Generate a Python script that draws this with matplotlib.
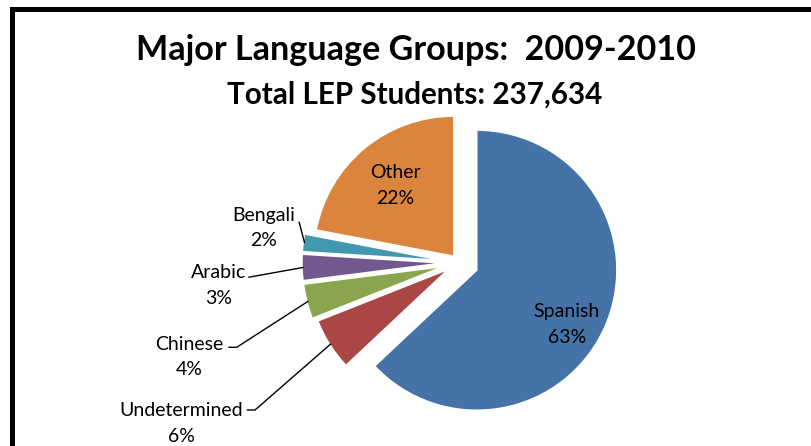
import matplotlib
matplotlib.use("Agg")
import matplotlib.pyplot as plt
import numpy as np

categories = ["Spanish", "Undetermined", "Chinese", "Arabic", "Bengali", "Other"]
percents = [63, 6, 4, 3, 2, 22]
colors = ["#4572A7", "#AA4643", "#89A54E", "#71588F", "#4198AF", "#DB843D"]
explode_px = [19.4, 13, 17, 17, 17, 8.2]

title = "Major Language Groups:  2009-2010"
subtitle = "Total LEP Students: 237,634"

W, H = 811, 446
fig = plt.figure(figsize=(W / 100, H / 100), dpi=100)
ax = fig.add_axes([0, 0, 1, 1])
FONT = "Lato"

def Y(y):
    return H - y

R = 140.0
cx, cy = 459.0, Y(262.5)
wedges, _ = ax.pie(percents, colors=colors, startangle=90, counterclock=False,
                   radius=R, center=(cx, cy),
                   explode=explode_px,
                   wedgeprops=dict(edgecolor="white", linewidth=1.0))
ax.set_xlim(0, W)
ax.set_ylim(0, H)
ax.set_aspect("equal")
ax.axis("off")

# Titles
ax.text(416.5, Y(60), title, ha="center", va="baseline", fontsize=24.6,
        fontweight="bold", family=FONT)
ax.text(414.5, Y(103.3), subtitle, ha="center", va="baseline", fontsize=21.3,
        fontweight="bold", family=FONT)

LFS = 14
# label centers (first line) in image coords
label_pos = {
    "Spanish": (566.7, 311.7),
    "Other": (395.0, 172.7),
    "Bengali": (263.5, 215.0),
    "Arabic": (218.3, 272.7),
    "Chinese": (189.7, 344.0),
    "Undetermined": (181.0, 410.7),
}
line_gap = 25.5
for name, p in zip(categories, percents):
    x, y = label_pos[name]
    ax.text(x, Y(y), name, ha="center", va="center", fontsize=LFS, family=FONT)
    ax.text(x, Y(y + line_gap), f"{p}%", ha="center", va="center", fontsize=LFS, family=FONT)

# leader lines: start points near label, anchor on wedge arc
leader_start = {
    "Bengali": [(299.0, 221.7)],
    "Arabic": [(248.3, 277.3)],
    "Chinese": [(228.3, 347.3), (236.7, 347.3)],
    "Undetermined": [(246.7, 410.0), (255.0, 410.0)],
}
for w, name in zip(wedges, categories):
    if name not in leader_start:
        continue
    th = np.deg2rad(0.5 * (w.theta1 + w.theta2))
    wc = w.center
    ax_ = wc[0] + 0.99 * R * np.cos(th)
    ay_ = wc[1] + 0.99 * R * np.sin(th)
    pts = [(x, Y(y)) for x, y in leader_start[name]] + [(ax_, ay_)]
    xs, ys = zip(*pts)
    ax.plot(xs, ys, color="black", lw=1.0, solid_capstyle="butt")

# partial black frame (left and top visible)
ax.plot([11.5, 11.5, W + 20], [-20, Y(8.5), Y(8.5)], color="black", lw=3.6,
        solid_joinstyle="miter", clip_on=False)

fig.savefig("out.png", dpi=100)
